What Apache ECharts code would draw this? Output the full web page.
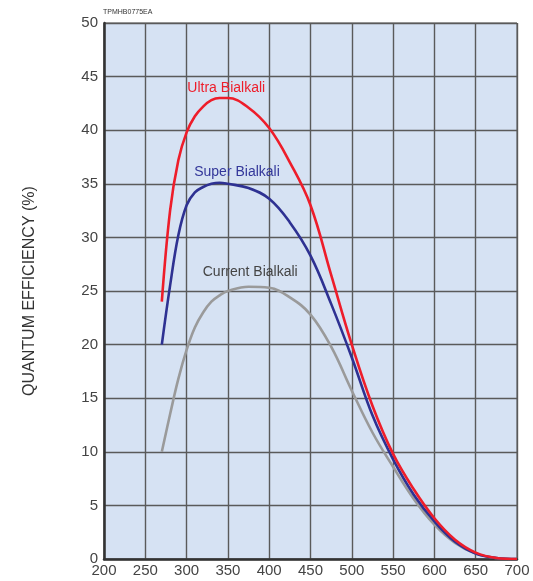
<!DOCTYPE html>
<html>
<head>
<meta charset="utf-8">
<script src="https://cdn.jsdelivr.net/npm/echarts@6/dist/echarts.min.js"></script>
<style>
  html, body { margin: 0; padding: 0; background: #ffffff; }
  #chart { width: 533px; height: 581px; }
</style>
</head>
<body>
<div id="chart"></div>
<script>
// wavelength (nm) and quantum efficiency (%)
var waveX = [270, 280, 290, 300, 310, 320, 330, 340, 350, 375, 400, 425, 450, 475, 500, 525, 550, 575, 600, 625, 650, 675, 700];
var ultraY = [24, 32.5, 37.2, 39.8, 41.3, 42.2, 42.8, 43, 43, 42.1, 40.2, 37, 33, 26.5, 20, 14.3, 9.8, 6.5, 3.8, 1.8, 0.6, 0.1, 0];
var superY = [20, 25.5, 30.2, 33, 34.2, 34.7, 35, 35.1, 35, 34.6, 33.6, 31.4, 28.3, 23.8, 18.8, 13.4, 9.3, 6, 3.5, 1.6, 0.5, 0.1, 0];
var currentY = [10, 13.5, 16.8, 19.5, 21.6, 23, 24, 24.6, 25, 25.4, 25.3, 24.4, 22.8, 19.8, 15.7, 11.8, 8.6, 5.6, 3.2, 1.5, 0.5, 0.1, 0];

var seriesNames = ['Ultra Bialkali', 'Super Bialkali', 'Current Bialkali'];
var labelAt = [[348, 43.9], [361, 36.1], [377, 26.8]];

function pairs(xs, ys) {
  return xs.map(function (x, i) { return [x, ys[i]]; });
}

var myChart = echarts.init(document.getElementById('chart'));

var colors = ['#ee1d2a', '#2e3192', '#9a9a9a'];
var labelColors = ['#ee1d2a', '#33379a', '#444444'];
var allData = [pairs(waveX, ultraY), pairs(waveX, superY), pairs(waveX, currentY)];

// draw the gray curve first so the coloured ones sit on top
var order = [2, 1, 0];
var series = order.map(function (i) {
  return {
    name: seriesNames[i],
    type: 'line',
    data: allData[i],
    smooth: 0.4,
    symbol: 'none',
    lineStyle: { color: colors[i], width: 2.6 },
    markPoint: {
      symbol: 'circle',
      symbolSize: 0,
      data: [{ coord: labelAt[i] }],
      label: {
        show: true,
        position: 'inside',
        formatter: seriesNames[i],
        color: labelColors[i],
        fontFamily: 'Liberation Sans, Arial, sans-serif',
        fontSize: 14
      }
    }
  };
});

var option = {
  animation: false,
  grid: {
    left: 104,
    right: 16,
    top: 23,
    bottom: 22,
    show: true,
    backgroundColor: '#d6e2f3',
    borderColor: '#555',
    borderWidth: 1
  },
  graphic: [{
    type: 'text',
    left: 103,
    top: 9,
    style: { text: 'TPMHB0775EA', fontSize: 7, fill: '#333', fontFamily: 'Liberation Sans, Arial, sans-serif' }
  }],
  xAxis: {
    type: 'value',
    min: 200,
    max: 700,
    interval: 50,
    axisLine: { show: true, lineStyle: { color: '#333', width: 2.5 } },
    axisTick: { show: false },
    axisLabel: { color: '#444', fontSize: 15, margin: 4, fontFamily: 'Liberation Sans, Arial, sans-serif' },
    splitLine: { lineStyle: { color: '#5a5a5a', width: 1.4 } }
  },
  yAxis: {
    type: 'value',
    min: 0,
    max: 50,
    interval: 5,
    name: 'QUANTUM EFFICIENCY (%)',
    nameLocation: 'middle',
    nameGap: 66,
    nameTextStyle: { color: '#333', fontSize: 16, fontFamily: 'Liberation Sans, Arial, sans-serif' },
    axisLine: { show: true, lineStyle: { color: '#333', width: 2.5 } },
    axisTick: { show: false },
    axisLabel: { color: '#444', fontSize: 15, margin: 6, fontFamily: 'Liberation Sans, Arial, sans-serif' },
    splitLine: { lineStyle: { color: '#5a5a5a', width: 1.4 } }
  },
  series: series
};

myChart.setOption(option);
</script>
</body>
</html>
